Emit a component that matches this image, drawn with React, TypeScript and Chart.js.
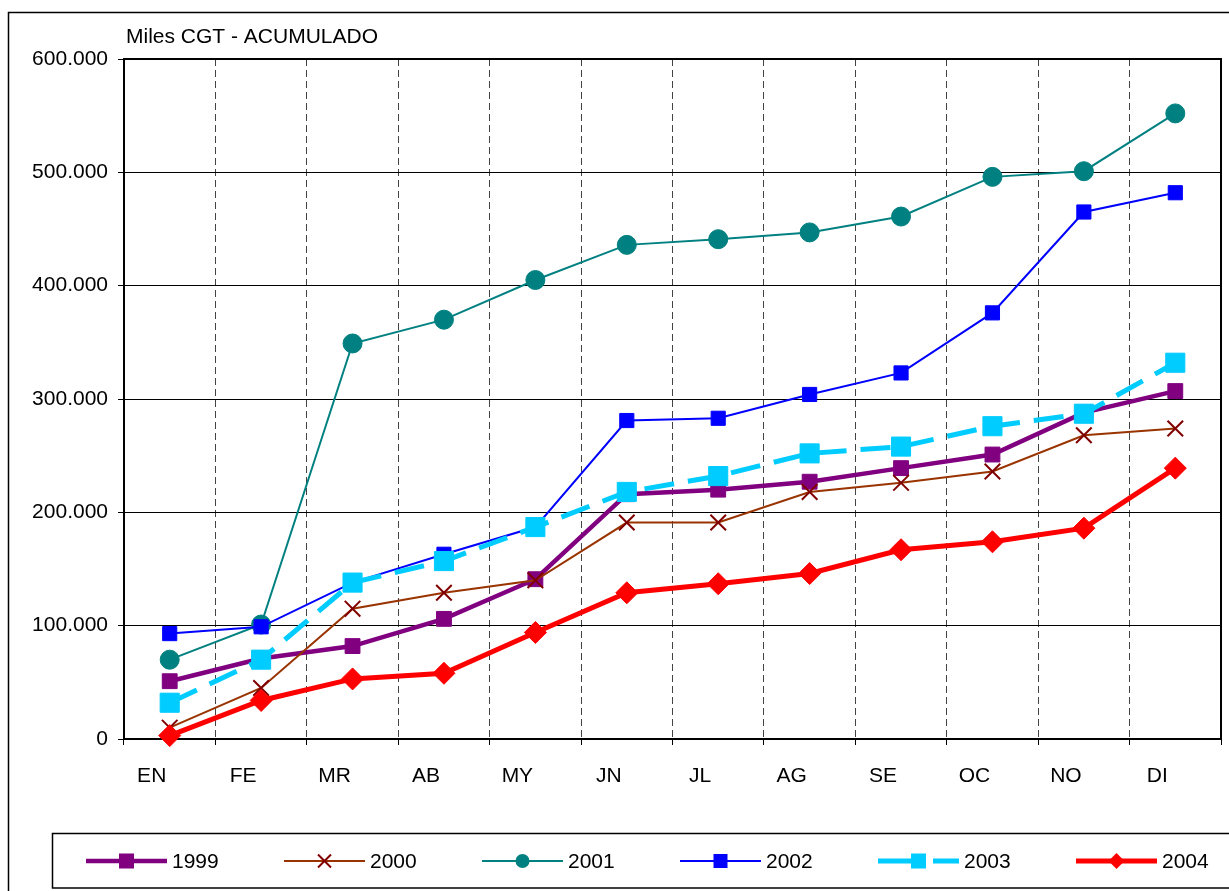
import React, { useEffect, useRef } from 'react';
import { Chart, registerables } from 'chart.js';

Chart.register(...registerables);

// ---- data ----
const months = ['EN', 'FE', 'MR', 'AB', 'MY', 'JN', 'JL', 'AG', 'SE', 'OC', 'NO', 'DI'];
const s1999 = [51000, 71000, 82000, 106000, 141000, 216000, 220000, 227000, 239000, 251000, 288000, 307000];
const s2000 = [10000, 45000, 115000, 129000, 140000, 191000, 191000, 218000, 226000, 236000, 268000, 274000];
const s2001 = [70000, 101000, 349000, 370000, 405000, 436000, 441000, 447000, 461000, 496000, 501000, 552000];
const s2002 = [93000, 99000, 138000, 163000, 187000, 281000, 283000, 304000, 323000, 376000, 465000, 482000];
const s2003 = [32000, 70000, 138000, 157000, 187000, 218000, 232000, 252000, 258000, 276000, 287000, 332000];
const s2004 = [3000, 34000, 53000, 58000, 94000, 129000, 137000, 146000, 167000, 174000, 186000, 239000];
const seriesNames = ['1999', '2000', '2001', '2002', '2003', '2004'];
const chartTitle = 'Miles CGT - ACUMULADO';
const yMin = 0;
const yMax = 600000;
const yStep = 100000;

const FONT = '"Liberation Sans", Arial, sans-serif';
const FS = 21;

function fmt(v: number): string {
  return String(Math.round(v)).replace(/\B(?=(\d{3})+(?!\d))/g, '.');
}

function drawMarker(ctx: CanvasRenderingContext2D, style: string, x: number, y: number, size: number, color: string) {
  ctx.save();
  ctx.fillStyle = color;
  ctx.strokeStyle = color;
  ctx.setLineDash([]);
  const h = size / 2;
  if (style === 'rect') {
    ctx.fillRect(x - h, y - h, size, size);
  } else if (style === 'circle') {
    ctx.beginPath();
    ctx.arc(x, y, h, 0, Math.PI * 2);
    ctx.fill();
  } else if (style === 'rectRot') {
    ctx.beginPath();
    ctx.moveTo(x, y - h);
    ctx.lineTo(x + h, y);
    ctx.lineTo(x, y + h);
    ctx.lineTo(x - h, y);
    ctx.closePath();
    ctx.fill();
  } else if (style === 'crossRot') {
    ctx.lineWidth = 2;
    ctx.beginPath();
    ctx.moveTo(x - h, y - h);
    ctx.lineTo(x + h, y + h);
    ctx.moveTo(x + h, y - h);
    ctx.lineTo(x - h, y + h);
    ctx.stroke();
  }
  ctx.restore();
}

const legendMeta = [
  { style: 'rect', size: 15, lw: 4.5, dash: [] as number[], line: '#800080', mark: '#800080' },
  { style: 'crossRot', size: 13, lw: 2, dash: [], line: '#993300', mark: '#800000' },
  { style: 'circle', size: 14, lw: 2, dash: [], line: '#008080', mark: '#008080' },
  { style: 'rect', size: 14, lw: 2, dash: [], line: '#0000FF', mark: '#0000FF' },
  { style: 'rect', size: 15, lw: 5, dash: [33, 22], line: '#00CCFF', mark: '#00CCFF' },
  { style: 'rectRot', size: 16, lw: 5, dash: [], line: '#FF0000', mark: '#FF0000' },
];

const framePlugin = {
  id: 'framePlugin',
  beforeDraw(chart: any) {
    const ctx: CanvasRenderingContext2D = chart.ctx;
    ctx.save();
    ctx.fillStyle = '#fff';
    ctx.fillRect(0, 0, chart.width, chart.height);
    ctx.strokeStyle = '#000';
    ctx.lineWidth = 1.5;
    ctx.strokeRect(8.5, 12.5, 1400, 1000);
    ctx.fillStyle = '#000';
    ctx.font = `${FS}px ${FONT}`;
    ctx.textBaseline = 'alphabetic';
    ctx.textAlign = 'left';
    ctx.fillText(chartTitle, 126, 43);
    ctx.restore();
  },
  afterDraw(chart: any) {
    const ctx: CanvasRenderingContext2D = chart.ctx;
    const a = chart.chartArea;
    ctx.save();
    ctx.strokeStyle = '#000';
    ctx.lineWidth = 2;
    ctx.beginPath();
    ctx.moveTo(a.left, a.top);
    ctx.lineTo(a.right, a.top);
    ctx.lineTo(a.right, a.bottom);
    ctx.stroke();

    // legend box
    ctx.lineWidth = 1.5;
    ctx.strokeRect(52.5, 833.5, 1400, 54.5);
    const ly = 861;
    chart.data.datasets.forEach((ds: any, i: number) => {
      const m = legendMeta[i];
      const x0 = 86 + i * 198;
      const x1 = x0 + 81;
      ctx.save();
      ctx.strokeStyle = m.line;
      ctx.lineWidth = m.lw;
      ctx.lineCap = 'butt';
      ctx.setLineDash(m.dash);
      ctx.beginPath();
      ctx.moveTo(x0, ly);
      ctx.lineTo(x1, ly);
      ctx.stroke();
      ctx.restore();
      drawMarker(ctx, m.style, (x0 + x1) / 2, ly, m.size, m.mark);
      ctx.fillStyle = '#000';
      ctx.font = `${FS}px ${FONT}`;
      ctx.textBaseline = 'middle';
      ctx.textAlign = 'left';
      ctx.fillText(ds.label, x1 + 5, ly + 1);
    });
    ctx.restore();
  },
};

export default function App() {
  const ref = useRef<HTMLCanvasElement | null>(null);

  useEffect(() => {
    if (!ref.current) return;
    Chart.defaults.font.family = FONT;
    Chart.defaults.font.size = FS;
    Chart.defaults.color = '#000';

    const chart = new Chart(ref.current, {
      type: 'line',
      data: {
        labels: months,
        datasets: [
          {
            label: seriesNames[0], data: s1999, borderColor: '#800080', backgroundColor: '#800080',
            borderWidth: 4.5, pointStyle: 'rect', pointRadius: 10.5, pointBorderWidth: 1,
            pointBorderColor: '#800080', pointBackgroundColor: '#800080', order: 5, clip: false,
          },
          {
            label: seriesNames[1], data: s2000, borderColor: '#993300', backgroundColor: '#800000',
            borderWidth: 2, pointStyle: 'crossRot', pointRadius: 11, pointBorderWidth: 2,
            pointBorderColor: '#800000', pointBackgroundColor: '#800000', order: 4, clip: false,
          },
          {
            label: seriesNames[2], data: s2001, borderColor: '#008080', backgroundColor: '#008080',
            borderWidth: 2, pointStyle: 'circle', pointRadius: 9.5, pointBorderWidth: 1,
            pointBorderColor: '#008080', pointBackgroundColor: '#008080', order: 3, clip: false,
          },
          {
            label: seriesNames[3], data: s2002, borderColor: '#0000FF', backgroundColor: '#0000FF',
            borderWidth: 2, pointStyle: 'rect', pointRadius: 10, pointBorderWidth: 1,
            pointBorderColor: '#0000FF', pointBackgroundColor: '#0000FF', order: 2, clip: false,
          },
          {
            label: seriesNames[4], data: s2003, borderColor: '#00CCFF', backgroundColor: '#00CCFF',
            borderWidth: 5, borderDash: [30, 14], pointStyle: 'rect', pointRadius: 13.5, pointBorderWidth: 1,
            pointBorderColor: '#00CCFF', pointBackgroundColor: '#00CCFF', order: 1, clip: false,
          },
          {
            label: seriesNames[5], data: s2004, borderColor: '#FF0000', backgroundColor: '#FF0000',
            borderWidth: 5, pointStyle: 'rectRot', pointRadius: 11, pointBorderWidth: 1,
            pointBorderColor: '#FF0000', pointBackgroundColor: '#FF0000', order: 0, clip: false,
          },
        ],
      },
      options: {
        responsive: false,
        animation: false,
        devicePixelRatio: 1,
        layout: { autoPadding: false, padding: { left: 0, top: 59, right: 8, bottom: 0 } },
        elements: { line: { tension: 0 } },
        plugins: {
          legend: { display: false },
          title: { display: false },
          tooltip: { enabled: false },
        },
        scales: {
          x: {
            type: 'category',
            offset: true,
            grid: {
              offset: true,
              color: '#444',
              lineWidth: 1,
              tickLength: 6,
              tickColor: '#000',
              tickWidth: 1,
              tickBorderDash: [],
            },
            border: { display: true, color: '#000', width: 2, dash: [7, 4] },
            ticks: {
              color: '#000',
              font: { size: FS, family: FONT },
              padding: 19,
              labelOffset: -18,
              maxRotation: 0,
              autoSkip: false,
            },
            afterFit: (scale: any) => {
              scale.height = 152;
              scale.paddingLeft = 0;
              scale.paddingRight = 0;
            },
          },
          y: {
            min: yMin,
            max: yMax,
            grid: {
              color: '#000',
              lineWidth: 1,
              tickLength: 6,
              tickColor: '#000',
            },
            border: { display: true, color: '#000', width: 2 },
            ticks: {
              stepSize: yStep,
              color: '#000',
              font: { size: FS, family: FONT },
              padding: 10,
              callback: (v: any) => fmt(Number(v)),
            },
            afterFit: (scale: any) => {
              scale.width = 124;
              scale.paddingTop = 0;
              scale.paddingBottom = 0;
            },
          },
        },
      } as any,
      plugins: [framePlugin],
    });
    return () => chart.destroy();
  }, []);

  return (
    <div style={{ position: 'absolute', left: 0, top: 0, width: 1229, height: 891 }}>
      <canvas ref={ref} width={1229} height={891} style={{ display: 'block', width: 1229, height: 891 }} />
    </div>
  );
}
